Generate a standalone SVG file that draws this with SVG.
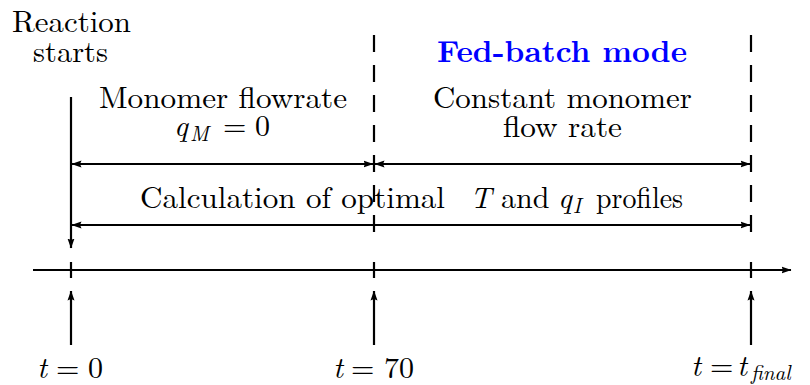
<svg xmlns="http://www.w3.org/2000/svg" width="810" height="385" viewBox="0 0 810 385">
<defs>
<marker id="ah" viewBox="0 0 10 8" markerWidth="10" markerHeight="8" refX="9.5" refY="4" orient="auto-start-reverse" markerUnits="userSpaceOnUse">
<path d="M0,0.5 L10,4 L0,7.5 L1.5,4 z" fill="#000"/>
</marker>
<style>
.ln{stroke:#000;stroke-width:2.2;fill:none}
.ar{stroke:#000;stroke-width:2.2;fill:none;marker-end:url(#ah)}
.dar{stroke:#000;stroke-width:2.2;fill:none;marker-start:url(#ah);marker-end:url(#ah)}
.dash{stroke:#000;stroke-width:2.2;fill:none;stroke-dasharray:17 13}
text{font-family:"Latin Modern Roman",serif;font-size:30px;fill:#000}
.i{font-style:italic}
.sub{font-size:21px}
.b{font-weight:bold;fill:#0000ff}
</style>
</defs>
<rect width="810" height="385" fill="#fff"/>
<g id="connectors">
<line class="dash" x1="374" y1="35" x2="374" y2="233"/>
<line class="dash" x1="751" y1="35" x2="751" y2="233"/>
<line class="ln" x1="71" y1="262" x2="71" y2="278"/>
<line class="ln" x1="374" y1="262" x2="374" y2="278"/>
<line class="ln" x1="751" y1="262" x2="751" y2="278"/>
<line class="ar" x1="71" y1="97" x2="71" y2="248"/>
<line class="dar" x1="72" y1="164" x2="373" y2="164"/>
<line class="dar" x1="375" y1="164" x2="750" y2="164"/>
<line class="dar" x1="72" y1="225" x2="750" y2="225"/>
<line class="ar" x1="33" y1="270" x2="791" y2="270"/>
<line class="ar" x1="71" y1="345" x2="71" y2="291"/>
<line class="ar" x1="374" y1="345" x2="374" y2="291"/>
<line class="ar" x1="751" y1="345" x2="751" y2="291"/>
</g>
<g id="reaction-starts">
<text x="12" y="32" textLength="119" lengthAdjust="spacingAndGlyphs">Reaction</text>
<text x="33" y="62" textLength="75" lengthAdjust="spacingAndGlyphs">starts</text>
</g>
<g id="fed-batch-mode">
<text class="b" x="437" y="62" textLength="250" lengthAdjust="spacingAndGlyphs">Fed-batch mode</text>
</g>
<g id="monomer-flowrate">
<text x="99" y="108" textLength="248" lengthAdjust="spacingAndGlyphs">Monomer flowrate</text>
<text y="136"><tspan class="i" x="174">q</tspan><tspan class="i sub" x="190" dy="4.5">M</tspan><tspan x="223" dy="-4.5">=</tspan><tspan x="255">0</tspan></text>
</g>
<g id="constant-flow">
<text x="433" y="108" textLength="259" lengthAdjust="spacingAndGlyphs">Constant monomer</text>
<text x="503" y="137" textLength="119" lengthAdjust="spacingAndGlyphs">flow rate</text>
</g>
<g id="calculation">
<text x="140" y="208" textLength="305" lengthAdjust="spacingAndGlyphs">Calculation of optimal</text>
<text y="208"><tspan class="i" x="470">T</tspan><tspan x="501">and</tspan><tspan class="i" x="558">q</tspan><tspan class="i sub" x="573" dy="4.5">I</tspan></text>
<text x="596" y="208" textLength="87" lengthAdjust="spacingAndGlyphs">profiles</text>
</g>
<g id="t0">
<text y="378"><tspan class="i" x="37">t</tspan><tspan x="56">=</tspan><tspan x="88">0</tspan></text>
</g>
<g id="t70">
<text y="378"><tspan class="i" x="333">t</tspan><tspan x="351">=</tspan><tspan x="384">70</tspan></text>
</g>
<g id="tfinal">
<text y="376"><tspan class="i" x="691">t</tspan><tspan x="710">=</tspan><tspan class="i" x="737">t</tspan><tspan class="i sub" x="751" dy="3.5">final</tspan></text>
</g>
</svg>
